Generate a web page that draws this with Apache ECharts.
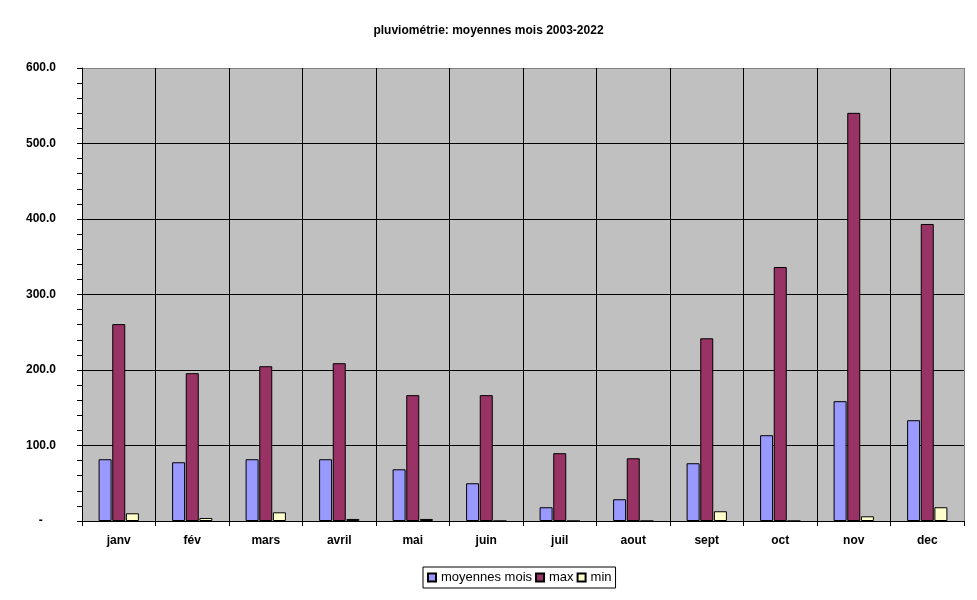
<!DOCTYPE html>
<html lang="fr">

<head>
    <meta charset="UTF-8">
    <title>pluviométrie</title>
    <style>
        html,
        body {
            margin: 0;
            padding: 0;
            background: #fff;
        }

        .chart_box {
            width: 977px;
            height: 600px;
        }
    </style>
</head>

<body>
    <div class="chart_box" id="main1"></div>
</body>

<script src="https://cdn.jsdelivr.net/npm/echarts@6.0.0/dist/echarts.min.js"></script>
<script>
    // mois
    var months = ['janv', 'fév', 'mars', 'avril', 'mai', 'juin', 'juil', 'aout', 'sept', 'oct', 'nov', 'dec'];
    // moyennes mois (mm)
    var meanData = [81.8, 77.8, 81.8, 81.8, 68.5, 50.0, 18.2, 28.8, 76.5, 113.6, 158.7, 133.5];
    // max
    var maxData = [260.8, 195.8, 205.0, 209.0, 166.7, 166.7, 89.8, 83.1, 242.0, 336.4, 540.6, 393.4];
    // min
    var minData = [10.2, 4.0, 11.5, 2.7, 2.7, 0, 0, 0, 12.9, 0, 6.2, 18.2];

    var myChart = echarts.init(document.getElementById('main1'));

    var barStyle = function(color) {
        return {
            color: color,
            borderColor: '#000',
            borderWidth: 1
        };
    };

    myChart.setOption({
        animation: false,
        textStyle: {
            fontFamily: 'Liberation Sans, Arial, sans-serif'
        },
        title: {
            text: 'pluviométrie: moyennes mois 2003-2022',
            left: 'center',
            top: 20,
            textStyle: {
                fontSize: 12,
                fontWeight: 'bold',
                color: '#000'
            }
        },
        legend: {
            data: ['moyennes mois', 'max', 'min'],
            left: 423,
            top: 567,
            padding: [4, 4],
            itemGap: 3,
            itemWidth: 8,
            itemHeight: 8,
            borderColor: '#000',
            borderWidth: 1,
            icon: 'rect',
            textStyle: {
                fontSize: 13,
                color: '#000'
            }
        },
        grid: {
            left: 82,
            right: 13,
            top: 68,
            bottom: 79,
            show: true,
            backgroundColor: '#c0c0c0',
            borderWidth: 0
        },
        xAxis: {
            type: 'category',
            data: months,
            axisLine: {
                lineStyle: {
                    color: '#000',
                    width: 1
                }
            },
            axisTick: {
                show: true,
                length: 5,
                lineStyle: {
                    color: '#000'
                }
            },
            axisLabel: {
                margin: 14,
                fontSize: 12,
                fontWeight: 'bold',
                color: '#000'
            },
            splitLine: {
                show: true,
                lineStyle: {
                    color: ['#000', '#000', '#000', '#000', '#000', '#000', '#000',
                        '#000', '#000', '#000', '#000', '#000', '#808080'
                    ],
                    width: 1
                }
            }
        },
        yAxis: {
            type: 'value',
            min: 0,
            max: 600,
            interval: 100,
            axisLine: {
                show: true,
                lineStyle: {
                    color: '#000'
                }
            },
            axisTick: {
                show: true,
                length: 5,
                lineStyle: {
                    color: '#000'
                }
            },
            minorTick: {
                show: true,
                splitNumber: 5,
                length: 5,
                lineStyle: {
                    color: '#000'
                }
            },
            axisLabel: {
                margin: 26,
                fontSize: 12,
                fontWeight: 'bold',
                color: '#000',
                formatter: function(v) {
                    return v === 0 ? '-    ' : v.toFixed(1);
                }
            },
            splitLine: {
                show: true,
                lineStyle: {
                    color: ['#000', '#000', '#000', '#000', '#000', '#000', '#808080'],
                    width: 1
                }
            }
        },
        series: [{
            name: 'moyennes mois',
            type: 'bar',
            data: meanData,
            barWidth: 13,
            barGap: '5%',
            itemStyle: barStyle('#9999ff')
        }, {
            name: 'max',
            type: 'bar',
            data: maxData,
            barWidth: 13,
            barGap: '5%',
            itemStyle: barStyle('#993366')
        }, {
            name: 'min',
            type: 'bar',
            data: minData,
            barWidth: 13,
            barGap: '5%',
            itemStyle: barStyle('#ffffcc')
        }]
    });
</script>

</html>
